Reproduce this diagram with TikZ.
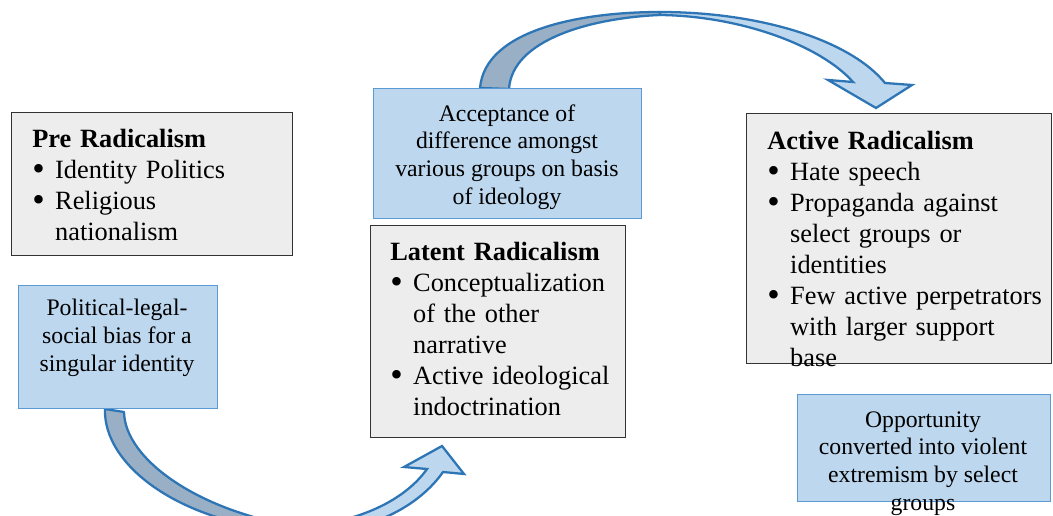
\documentclass[tikz,border=0pt]{standalone}
\usepackage{fontspec}
\setmainfont{Liberation Serif}
\definecolor{boxblue}{HTML}{BDD7EE}
\definecolor{lineblue}{HTML}{5B9BD5}
\definecolor{arrowline}{HTML}{2E75B6}
\definecolor{arrowback}{HTML}{98AFC5}
\definecolor{boxgray}{HTML}{EDEDED}
\newcommand{\nl}{\hfil\break}
\newcommand{\bitem}[1]{\par\hangindent=13pt\hangafter=1\noindent
  \makebox[13pt][l]{\raisebox{-1pt}{\scalebox{1.35}{\textbullet}}}#1\par}
\tikzset{
  graybox/.style={draw=black!80, fill=boxgray, line width=0.7pt, inner sep=0, anchor=north west},
  bluebox/.style={draw=lineblue, fill=boxblue, line width=0.8pt, inner sep=0, anchor=north west},
  graytext/.style={inner sep=0, anchor=north west, align=left, font=\fontsize{15}{17.6}\selectfont},
  bluetext/.style={inner sep=0, anchor=north, align=center, font=\fontsize{13.5}{15.9}\selectfont},
  bandback/.style={draw=arrowline, fill=arrowback, line width=1.3pt, line join=round},
  bandfront/.style={draw=arrowline, fill=boxblue, line width=1.3pt, line join=miter}
}
\begin{document}
\begin{tikzpicture}[x=0.02cm, y=-0.02cm]
    \useasboundingbox (0,0) rectangle (1053,516);
    \clip (0,0) rectangle (1053,516);

    % Curved arrow on top (acceptance -> active)
    \coordinate (topfoot) at (480,88);
    \coordinate (toptip) at (876,108);
    \draw[bandback] (topfoot) .. controls (485,30) and (580,12) .. (660,12)
        -- (660,15) .. controls (590,18) and (512,40) .. (509,89) -- cycle;
    \draw[bandfront] (660,12) .. controls (760,12) and (850,40) .. (885,83)
        -- (912,85) -- (toptip) -- (828,80) -- (853,82)
        .. controls (820,45) and (740,16) .. (660,15) -- cycle;

    % Curved arrow at bottom (political -> latent)
    \coordinate (botfoot) at (105,409);
    \coordinate (bottip) at (442,446);
    \draw[bandback] (botfoot) .. controls (103,465) and (180,525) .. (300,532)
        -- (300,527) .. controls (200,512) and (125,460) .. (124,412) -- cycle;
    \draw[bandfront] (300,532) .. controls (370,535) and (420,505) .. (443,472)
        -- (464,474) -- (bottip) -- (404,467) -- (427,469)
        .. controls (405,500) and (360,522) .. (300,527) -- cycle;

    % Stage boxes
    \node[graybox, minimum width=5.62cm, minimum height=2.86cm] (pre) at (11,112) {};
    \node[graybox, minimum width=5.10cm, minimum height=4.24cm] (latent) at (370,225) {};
    \node[graybox, minimum width=6.10cm, minimum height=5.00cm] (active) at (746,113) {};

    % Condition boxes
    \node[bluebox, minimum width=3.98cm, minimum height=2.46cm] (bias) at (18,285) {};
    \node[bluebox, minimum width=5.36cm, minimum height=2.60cm] (accept) at (373,88) {};
    \node[bluebox, minimum width=5.06cm, minimum height=2.14cm] (chance) at (797,394) {};

    % Texts
    \node[graytext, text width=5cm] (pretext) at (32,129) {{\bfseries Pre Radicalism}
        \bitem{Identity Politics}
        \bitem{Religious\nl nationalism}};
    \node[graytext, text width=5cm] (latenttext) at (390,242) {{\bfseries Latent Radicalism}
        \bitem{Conceptualization\nl of the other\nl narrative}
        \bitem{Active ideological\nl indoctrination}};
    \node[graytext, text width=5.8cm] (activetext) at (767,131) {{\bfseries Active Radicalism}
        \bitem{Hate speech}
        \bitem{Propaganda against\nl select groups or\nl identities}
        \bitem{Few active perpetrators\nl with larger support\nl base}};

    \node[bluetext] (biastext) at (117,299) {Political-legal-\\social bias for a\\singular identity};
    \node[bluetext] (accepttext) at (507,104) {Acceptance of\\difference amongst\\various groups on basis\\of ideology};
    \node[bluetext] (chancetext) at (923,411) {Opportunity\\converted into violent\\extremism by select\\groups};
\end{tikzpicture}
\end{document}
